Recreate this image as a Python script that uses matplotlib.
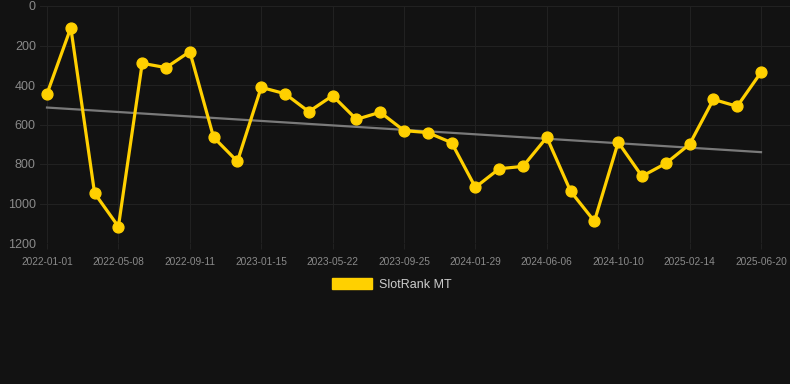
import matplotlib
matplotlib.use("Agg")
import matplotlib.pyplot as plt
from matplotlib.patches import Patch
import numpy as np

plt.rcParams['font.family'] = ['Liberation Sans', 'DejaVu Sans']

tick_labels = ["2022-01-01", "2022-05-08", "2022-09-11", "2023-01-15", "2023-05-22",
               "2023-09-25", "2024-01-29", "2024-06-06", "2024-10-10", "2025-02-14",
               "2025-06-20"]
series_name = "SlotRank MT"
values = [445, 110, 948, 1117, 290, 312, 231, 665, 787, 412,
          444, 535, 454, 574, 538, 631, 641, 692, 918, 824,
          812, 665, 938, 1090, 690, 862, 797, 700, 473, 508, 336]
y_ticks = [0, 200, 400, 600, 800, 1000, 1200]

BG = "#121212"
GRID = "#212121"
YELLOW = "#FFD000"
TREND = "#7a7a7a"
TICK = "#8a8a8a"

x = np.arange(len(values))
coef = np.polyfit(x, values, 1)
trend = np.polyval(coef, x)

fig = plt.figure(figsize=(7.9, 3.84), dpi=100, facecolor=BG)
W, H = 790, 384
left, right, top, bottom = 40, 790, 6, 243
ax = fig.add_axes([left / W, 1 - bottom / H, (right - left) / W, (bottom - top) / H])
ax.set_facecolor(BG)

ax.plot(x, trend, color=TREND, lw=1.6, zorder=2)
ax.plot(x, values, color=YELLOW, lw=2.3, marker='o', markersize=7.8,
        markerfacecolor=YELLOW, markeredgecolor=YELLOW, zorder=3)

spacing = (761 - 47) / 30
ax.set_xlim(-(47 - left) / spacing, 30 + (right - 761) / spacing)
ax.set_ylim(1200, 0)
ax.set_yticks(y_ticks)
ax.set_yticklabels([str(v) for v in y_ticks])
ax.set_xticks(x[::3])
ax.set_xticklabels(tick_labels)

ax.grid(True, color=GRID, lw=0.8)
ax.set_axisbelow(True)
for s in ax.spines.values():
    s.set_visible(False)
ax.tick_params(axis='y', colors=TICK, labelsize=9, length=0, pad=3)
ax.tick_params(axis='x', colors=TICK, labelsize=7.3, length=4, pad=6)
ax.tick_params(axis='x', color=GRID)

fig.legend(handles=[Patch(facecolor=YELLOW, edgecolor=YELLOW, label=series_name)],
           loc='center', bbox_to_anchor=(0.4955, 1 - 284.5 / H), frameon=False,
           fontsize=9, labelcolor="#cccccc", handlelength=3.2, handleheight=0.9,
           handletextpad=0.55)

fig.savefig("out.png", dpi=100, facecolor=BG)
